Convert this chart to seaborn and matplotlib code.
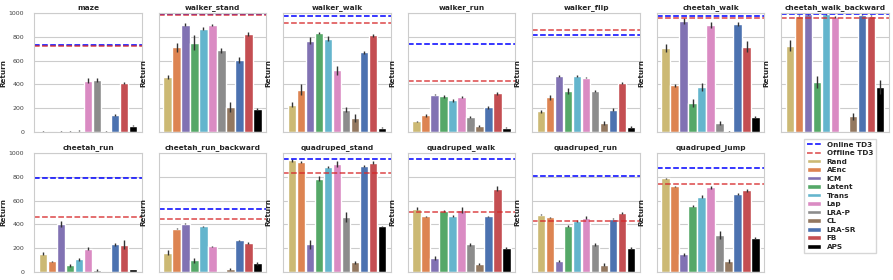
import numpy as np
import pandas as pd
import matplotlib
matplotlib.use("Agg")
import matplotlib.pyplot as plt
import seaborn as sns
from matplotlib.lines import Line2D
from matplotlib.patches import Patch

# methods and colours (seaborn deep palette, reordered)
methods = ['Rand', 'AEnc', 'ICM', 'Latent', 'Trans', 'Lap', 'LRA-P', 'CL', 'LRA-SR', 'FB', 'APS']
deep = sns.color_palette('deep')
colors = [deep[8], deep[1], deep[4], deep[2], deep[9], deep[6], deep[7], deep[5], deep[0], deep[3], 'black']

tasks = ['maze', 'walker_stand', 'walker_walk', 'walker_run', 'walker_flip', 'cheetah_walk',
         'cheetah_walk_backward', 'cheetah_run', 'cheetah_run_backward', 'quadruped_stand',
         'quadruped_walk', 'quadruped_run', 'quadruped_jump']

online_td3 = [735, 990, 975, 742, 818, 972, 992, 787, 532, 947, 952, 807, 871]
offline_td3 = [722, 984, 913, 431, 860, 955, 961, 459, 445, 832, 507, 429, 737]

# mean return per method (order as in `methods`) and error half-width
maze_mean = [5, 2, 5, 5, 10, 431, 437, 5, 146, 412, 53]
maze_err = [3, 1, 3, 3, 5, 20, 15, 3, 8, 12, 5]
walker_stand_mean = [462, 711, 902, 751, 868, 896, 686, 210, 608, 823, 196]
walker_stand_err = [20, 35, 12, 60, 15, 8, 20, 40, 25, 15, 10]
walker_walk_mean = [230, 356, 767, 832, 784, 518, 188, 120, 669, 812, 36]
walker_walk_err = [20, 45, 30, 10, 20, 35, 20, 35, 15, 10, 5]
walker_run_mean = [90, 140, 314, 300, 266, 294, 126, 48, 207, 325, 36]
walker_run_err = [5, 10, 5, 15, 10, 10, 10, 8, 15, 10, 5]
walker_flip_mean = [174, 291, 473, 344, 470, 458, 345, 76, 188, 412, 42]
walker_flip_err = [10, 20, 8, 25, 5, 5, 10, 15, 10, 10, 5]
cheetah_walk_mean = [706, 392, 930, 244, 378, 902, 76, 5, 908, 717, 126]
cheetah_walk_err = [30, 10, 25, 30, 35, 25, 20, 3, 20, 45, 10]
cheetah_walk_backward_mean = [725, 978, 989, 420, 989, 966, 0, 132, 986, 978, 378]
cheetah_walk_backward_err = [45, 5, 3, 50, 3, 5, 0, 30, 3, 5, 55]
cheetah_run_mean = [154, 90, 400, 56, 106, 196, 14, 0, 232, 230, 25]
cheetah_run_err = [10, 5, 25, 15, 15, 10, 8, 0, 10, 35, 3]
cheetah_run_backward_mean = [162, 364, 406, 98, 384, 216, 0, 25, 266, 246, 73]
cheetah_run_backward_err = [20, 5, 5, 20, 5, 5, 0, 10, 5, 8, 15]
quadruped_stand_mean = [938, 924, 232, 784, 882, 905, 462, 81, 888, 919, 384]
quadruped_stand_err = [10, 5, 40, 20, 10, 25, 45, 10, 10, 10, 5]
quadruped_walk_mean = [532, 468, 120, 510, 468, 524, 232, 64, 468, 700, 202]
quadruped_walk_err = [15, 5, 15, 10, 10, 25, 15, 8, 5, 20, 5]
quadruped_run_mean = [482, 459, 92, 384, 426, 457, 232, 62, 448, 496, 202]
quadruped_run_err = [5, 5, 10, 8, 8, 15, 15, 10, 5, 5, 5]
quadruped_jump_mean = [787, 720, 148, 557, 633, 711, 311, 92, 653, 686, 288]
quadruped_jump_err = [5, 5, 10, 10, 10, 10, 30, 15, 10, 10, 10]

task_means = [maze_mean, walker_stand_mean, walker_walk_mean, walker_run_mean, walker_flip_mean,
              cheetah_walk_mean, cheetah_walk_backward_mean, cheetah_run_mean, cheetah_run_backward_mean,
              quadruped_stand_mean, quadruped_walk_mean, quadruped_run_mean, quadruped_jump_mean]
task_errs = [maze_err, walker_stand_err, walker_walk_err, walker_run_err, walker_flip_err,
             cheetah_walk_err, cheetah_walk_backward_err, cheetah_run_err, cheetah_run_backward_err,
             quadruped_stand_err, quadruped_walk_err, quadruped_run_err, quadruped_jump_err]


def plot_task(ax, name, mean, err, online, offline, first_col):
    df = pd.DataFrame({'method': methods, 'Return': mean})
    sns.barplot(data=df, x='method', y='Return', hue='method', order=methods,
                hue_order=methods, palette=dict(zip(methods, colors)), saturation=1,
                width=0.9, errorbar=None, legend=False, ax=ax)
    ax.errorbar(np.arange(len(methods)), mean, yerr=err, fmt='none',
                ecolor='.2', elinewidth=1.0, capsize=0)
    ax.axhline(online, color='blue', ls='--', lw=1.1)
    ax.axhline(offline, color='#d62728', ls='--', lw=1.1, alpha=0.85)
    ax.set_xlim(-1, 11)
    ax.set_ylim(0, 1000)
    ax.set_xticks([1.58, 4.16, 6.74, 9.32])
    ax.set_xticklabels([])
    ax.set_yticks(range(0, 1001, 200))
    if not first_col:
        ax.set_yticklabels([])
    ax.tick_params(labelsize=4.5, pad=1, colors='.25')
    ax.set_xlabel('')
    ax.set_ylabel('Return', fontsize=5.2, fontweight='bold', labelpad=1.5)
    ax.set_title(name, fontsize=5.3, fontweight='bold', pad=2.5)
    for s in ax.spines.values():
        s.set_linewidth(0.8)


def main():
    sns.set_theme(style='whitegrid')
    plt.rcParams['font.family'] = ['DejaVu Sans']
    plt.rcParams['grid.linewidth'] = 0.8
    fig, axes = plt.subplots(2, 7, figsize=(8.93, 2.8), dpi=100)
    fig.subplots_adjust(left=34 / 893, right=889 / 893, top=1 - 13 / 280,
                        bottom=1 - 272 / 280, wspace=0.153, hspace=0.176)
    flat = axes.flatten()
    for i, name in enumerate(tasks):
        plot_task(flat[i], name, task_means[i], task_errs[i], online_td3[i],
                  offline_td3[i], i % 7 == 0)
    flat[13].axis('off')

    handles = [Line2D([], [], color='blue', ls='--', lw=1.1),
               Line2D([], [], color='#d62728', ls='--', lw=1.1, alpha=0.85)]
    handles += [Patch(facecolor=c) for c in colors]
    labels = ['Online TD3', 'Offline TD3'] + methods
    fig.legend(handles, labels, loc='upper left', bbox_to_anchor=(800 / 893, 1 - 135 / 280),
               prop={'size': 5.2, 'weight': 'bold'}, frameon=True, handlelength=2.0,
               handleheight=0.6, labelspacing=0.35, borderpad=0.4, fancybox=False)
    fig.savefig('out.png', dpi=100)


if __name__ == '__main__':
    main()
